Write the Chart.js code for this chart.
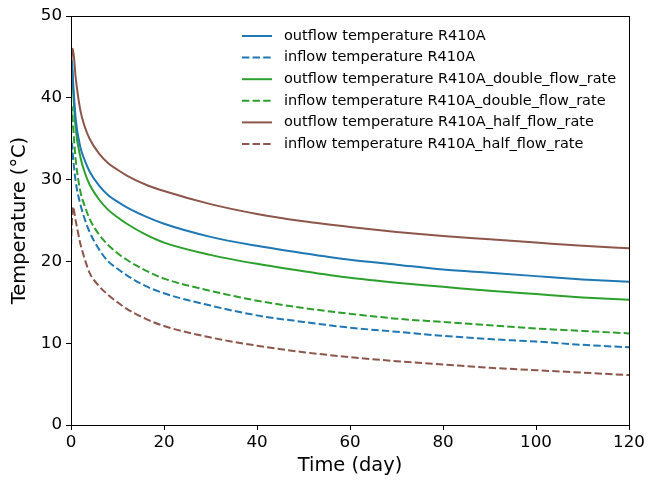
<!DOCTYPE html>
<html>
<head>
<meta charset="utf-8">
<script src="https://cdn.jsdelivr.net/npm/chart.js@4.4.1/dist/chart.umd.min.js"></script>
<style>
  body { margin: 0; background: #fff; }
  canvas { display: block; }
</style>
</head>
<body>
<canvas id="grafico" width="648" height="481"></canvas>
<script>
// time in days
const tempo = [0, 0.2, 0.4, 1, 2, 3, 4, 6, 8, 10, 12, 16, 20, 30, 40, 50, 60, 70, 80, 90, 100, 110, 120];

const outR410A  = [41.0, 44.6, 42.5, 37.5, 34.0, 32.3, 31.0, 29.3, 28.1, 27.3, 26.6, 25.5, 24.6, 23.0, 21.9, 21.0, 20.2, 19.6, 19.0, 18.6, 18.2, 17.8, 17.5];
const inR410A   = [32.0, 34.6, 33.0, 29.8, 27.0, 25.1, 23.6, 21.5, 20.0, 19.1, 18.3, 17.0, 16.1, 14.6, 13.4, 12.6, 11.9, 11.4, 10.9, 10.5, 10.2, 9.8, 9.5];
const outDouble = [41.0, 44.0, 41.5, 36.3, 32.8, 30.8, 29.4, 27.6, 26.3, 25.4, 24.6, 23.3, 22.3, 20.8, 19.7, 18.8, 18.0, 17.4, 16.9, 16.4, 16.0, 15.6, 15.3];
const inDouble  = [36.0, 38.9, 37.0, 32.5, 28.6, 26.7, 25.2, 23.3, 22.0, 21.0, 20.2, 18.9, 17.9, 16.4, 15.2, 14.3, 13.6, 13.0, 12.6, 12.2, 11.8, 11.5, 11.2];
const outHalf   = [43.0, 45.5, 46.0, 42.5, 38.5, 36.4, 35.0, 33.2, 32.0, 31.2, 30.5, 29.4, 28.6, 27.0, 25.8, 24.9, 24.2, 23.6, 23.1, 22.7, 22.3, 21.9, 21.6];
const inHalf    = [21.8, 25.0, 26.7, 25.0, 22.2, 20.2, 18.6, 17.0, 15.9, 15.0, 14.2, 13.0, 12.1, 10.7, 9.7, 8.9, 8.3, 7.8, 7.4, 7.0, 6.7, 6.4, 6.1];

const xTicks = [0, 20, 40, 60, 80, 100, 120];
const yTicks = [0, 10, 20, 30, 40, 50];

const azul = '#1f77b4', verde = '#2ca02c', marrom = '#8c564b';
const tracejado = [7.4, 3.2];

function serie(label, valores, cor, dash) {
  return {
    label,
    data: tempo.map((t, i) => ({ x: t, y: valores[i] })),
    borderColor: cor,
    backgroundColor: cor,
    borderWidth: 2,
    borderDash: dash,
    pointRadius: 0,
    cubicInterpolationMode: 'monotone',
    fill: false
  };
}

const datasets = [
  serie('outflow temperature R410A', outR410A, azul, []),
  serie('inflow temperature R410A', inR410A, azul, tracejado),
  serie('outflow temperature R410A_double_flow_rate', outDouble, verde, []),
  serie('inflow temperature R410A_double_flow_rate', inDouble, verde, tracejado),
  serie('outflow temperature R410A_half_flow_rate', outHalf, marrom, []),
  serie('inflow temperature R410A_half_flow_rate', inHalf, marrom, tracejado)
];

const fonte = 'DejaVu Sans';

// frame + legend inside the plot, matplotlib style
const molduraLegenda = {
  id: 'molduraLegenda',
  afterDraw(chart) {
    const ctx = chart.ctx;
    const a = chart.chartArea;
    ctx.save();
    ctx.strokeStyle = '#000';
    ctx.lineWidth = 1;
    ctx.setLineDash([]);
    ctx.strokeRect(Math.round(a.left) + 0.5, Math.round(a.top) + 0.5,
      Math.round(a.right - a.left), Math.round(a.bottom - a.top));

    ctx.font = `14.5px "${fonte}"`;
    ctx.textBaseline = 'middle';
    chart.data.datasets.forEach((ds, i) => {
      const y = 36 + i * 21.6;
      ctx.beginPath();
      ctx.strokeStyle = ds.borderColor;
      ctx.lineWidth = 2;
      ctx.setLineDash(ds.borderDash);
      ctx.moveTo(242, y);
      ctx.lineTo(272, y);
      ctx.stroke();
      ctx.setLineDash([]);
      ctx.fillStyle = '#000';
      ctx.fillText(ds.label, 284, y);
    });
    ctx.restore();
  }
};

new Chart(document.getElementById('grafico'), {
  type: 'line',
  data: { datasets },
  options: {
    responsive: false,
    animation: false,
    layout: { padding: { top: 16, right: 19, left: 0, bottom: 0 } },
    plugins: { legend: { display: false }, tooltip: { enabled: false } },
    scales: {
      x: {
        type: 'linear',
        min: 0, max: 120,
        afterFit: s => { s.height = 56; },
        afterBuildTicks: s => { s.ticks = xTicks.map(v => ({ value: v })); },
        grid: { drawOnChartArea: false, drawTicks: true, tickLength: 5, color: '#000' },
        border: { display: true, color: '#000' },
        ticks: { color: '#000', padding: 3, font: { family: fonte, size: 16.7 } },
        title: { display: true, text: 'Time (day)', color: '#000', padding: { top: 0, bottom: 3 },
                 font: { family: fonte, size: 19.4 } }
      },
      y: {
        min: 0, max: 50,
        afterFit: s => { s.width = 71; },
        afterBuildTicks: s => { s.ticks = yTicks.map(v => ({ value: v })); },
        grid: { drawOnChartArea: false, drawTicks: true, tickLength: 5, color: '#000' },
        border: { display: true, color: '#000' },
        ticks: { color: '#000', padding: 4, font: { family: fonte, size: 16.7 } },
        title: { display: true, text: 'Temperature (°C)', color: '#000', padding: { top: 8, bottom: 0 },
                 font: { family: fonte, size: 19.4 } }
      }
    }
  },
  plugins: [molduraLegenda]
});
</script>
</body>
</html>
